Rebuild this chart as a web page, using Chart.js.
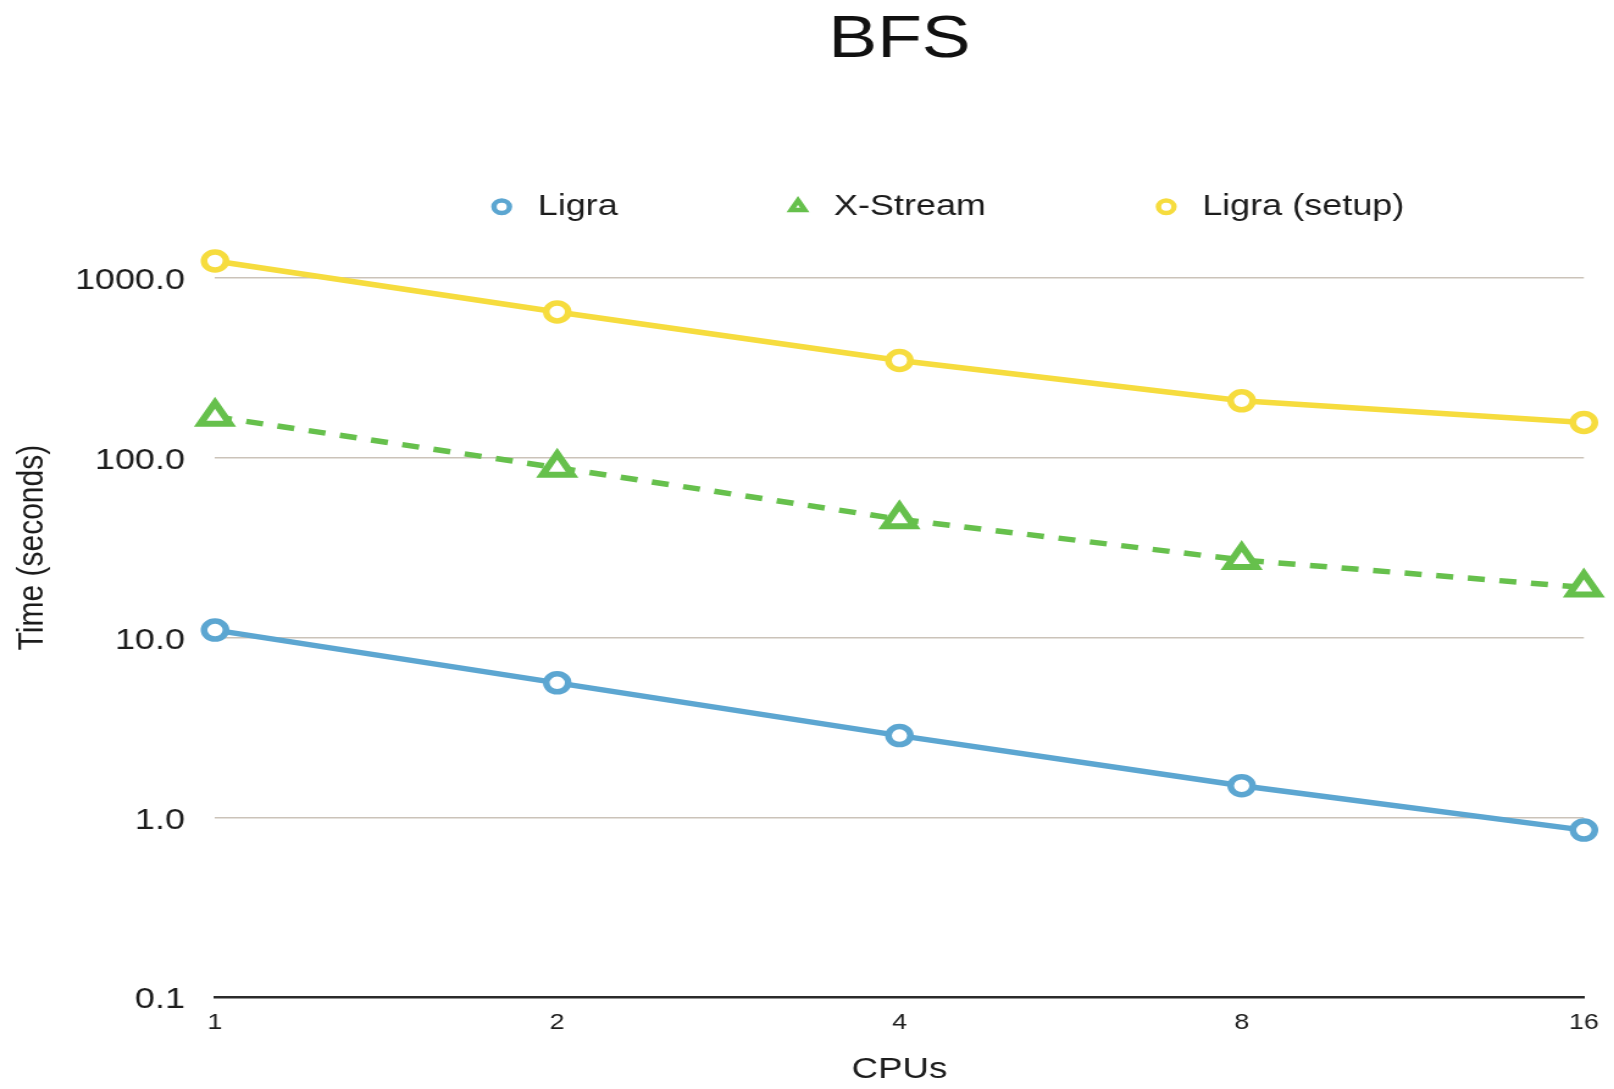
<!DOCTYPE html>
<html>
<head>
<meta charset="utf-8">
<title>BFS</title>
<script src="https://cdn.jsdelivr.net/npm/chart.js@4/dist/chart.umd.min.js"></script>
<style>
  html, body { margin: 0; padding: 0; background: #ffffff; overflow: hidden; }
  /* the chart is laid out narrower and widened on screen */
  #wrap {
    position: absolute; left: 0; top: 0;
    width: 1323px; height: 1089px;
    transform: scaleX(1.22); transform-origin: 0 0;
  }
</style>
</head>
<body>
<div id="wrap"><canvas id="chart"></canvas></div>
<script>
// CPU counts on the x axis
const cpus = ['1', '2', '4', '8', '16'];

// run times in seconds
const ligra      = [11, 5.6, 2.85, 1.5, 0.85];
const xstream    = [169, 88, 45.5, 27, 19];
const ligraSetup = [1240, 646, 347, 207, 157];

// labelled decades on the time axis
const yTickValues = [0.1, 1, 10, 100, 1000];
const yMin = 0.1;
const yMax = 1809;
// the y axis title is centred on the span 0.1 .. 10000
const yTitleSpanTop = 10000;
const yTitleText = 'Time (seconds)';

const FONT = "'Liberation Sans', Helvetica, Arial, sans-serif";
const INK = '#1c1c1c';

const BLUE = '#5ca6d1';
const GREEN = '#66c04c';
const YELLOW = '#f6dc3e';

function lineSet(label, data, color, style, extra) {
  return Object.assign({
    label: label,
    data: data,
    borderColor: color,
    backgroundColor: '#ffffff',
    borderWidth: 5.5,
    pointStyle: style,
    pointRadius: 9,
    pointHoverRadius: 9,
    pointBorderWidth: 5.5,
    pointBackgroundColor: '#ffffff',
    pointBorderColor: color,
    tension: 0,
    clip: false
  }, extra || {});
}

// rotated y axis title, centred on the span given above
const yTitlePlugin = {
  id: 'yTitle',
  afterDraw(chart) {
    const y = chart.scales.y;
    const ctx = chart.ctx;
    const cy = (y.getPixelForValue(yMin) + y.getPixelForValue(yTitleSpanTop)) / 2;
    ctx.save();
    ctx.translate(27, cy);
    ctx.rotate(-Math.PI / 2);
    ctx.fillStyle = INK;
    ctx.font = '30px ' + FONT;
    ctx.textAlign = 'center';
    ctx.textBaseline = 'middle';
    ctx.fillText(yTitleText, 0, 0);
    ctx.restore();
  }
};

// nudge the legend row to the right of the plot centre
const legendShift = {
  id: 'legendShift',
  afterLayout(chart) {
    const lg = chart.legend;
    if (lg) { lg.left += 36.5; lg.right += 36.5; }
  }
};

new Chart(document.getElementById('chart'), {
  type: 'line',
  data: {
    labels: cpus,
    datasets: [
      lineSet('Ligra', ligra, BLUE, 'circle'),
      lineSet('X-Stream', xstream, GREEN, 'triangle', {
        borderDash: [14, 12],
        pointRadius: 14,
        pointHoverRadius: 14,
        pointBorderWidth: 6
      }),
      lineSet('Ligra (setup)', ligraSetup, YELLOW, 'circle')
    ]
  },
  plugins: [yTitlePlugin, legendShift],
  options: {
    responsive: true,
    maintainAspectRatio: false,
    animation: false,
    devicePixelRatio: 1,
    layout: { padding: { left: 36.8, right: 24.6, top: 0, bottom: 0 } },
    plugins: {
      tooltip: { enabled: false },
      title: {
        display: true,
        text: 'BFS',
        fullSize: false,
        color: '#111111',
        font: { family: FONT, size: 60, weight: 'normal', lineHeight: 0.6 },
        padding: { top: 22, bottom: 1 }
      },
      legend: {
        display: true,
        position: 'top',
        align: 'center',
        fullSize: false,
        labels: {
          usePointStyle: true,
          boxHeight: 9,
          padding: 133,
          color: INK,
          font: { family: FONT, size: 29.5 },
          generateLabels(chart) {
            const items = Chart.defaults.plugins.legend.labels.generateLabels(chart);
            items.forEach(it => {
              it.lineWidth = 4.5;
              it.lineDash = [];
              it.fillStyle = '#ffffff';
            });
            return items;
          }
        }
      }
    },
    scales: {
      x: {
        type: 'category',
        offset: false,
        grid: { display: false, drawTicks: false },
        border: { display: true, color: '#2b2b2b', width: 2.5 },
        ticks: {
          color: INK,
          padding: 12.5,
          maxRotation: 0,
          autoSkip: false,
          font: { family: FONT, size: 22 }
        },
        title: {
          display: true,
          text: 'CPUs',
          color: INK,
          font: { family: FONT, size: 30 },
          padding: { top: 3.3, bottom: 1 }
        }
      },
      y: {
        type: 'logarithmic',
        min: yMin,
        max: yMax,
        afterBuildTicks(scale) {
          scale.ticks = yTickValues.map(v => ({ value: v }));
        },
        grid: {
          drawTicks: false,
          lineWidth: 1.5,
          color: ctx => (ctx.tick && ctx.tick.value === yMin) ? 'rgba(0,0,0,0)' : '#cbc3b9'
        },
        border: { display: false },
        ticks: {
          color: INK,
          padding: 24.6,
          labelOffset: 3,
          font: { family: FONT, size: 29.5 },
          callback: v => Number(v).toFixed(1)
        },
        title: { display: false }
      }
    }
  }
});
</script>
</body>
</html>
